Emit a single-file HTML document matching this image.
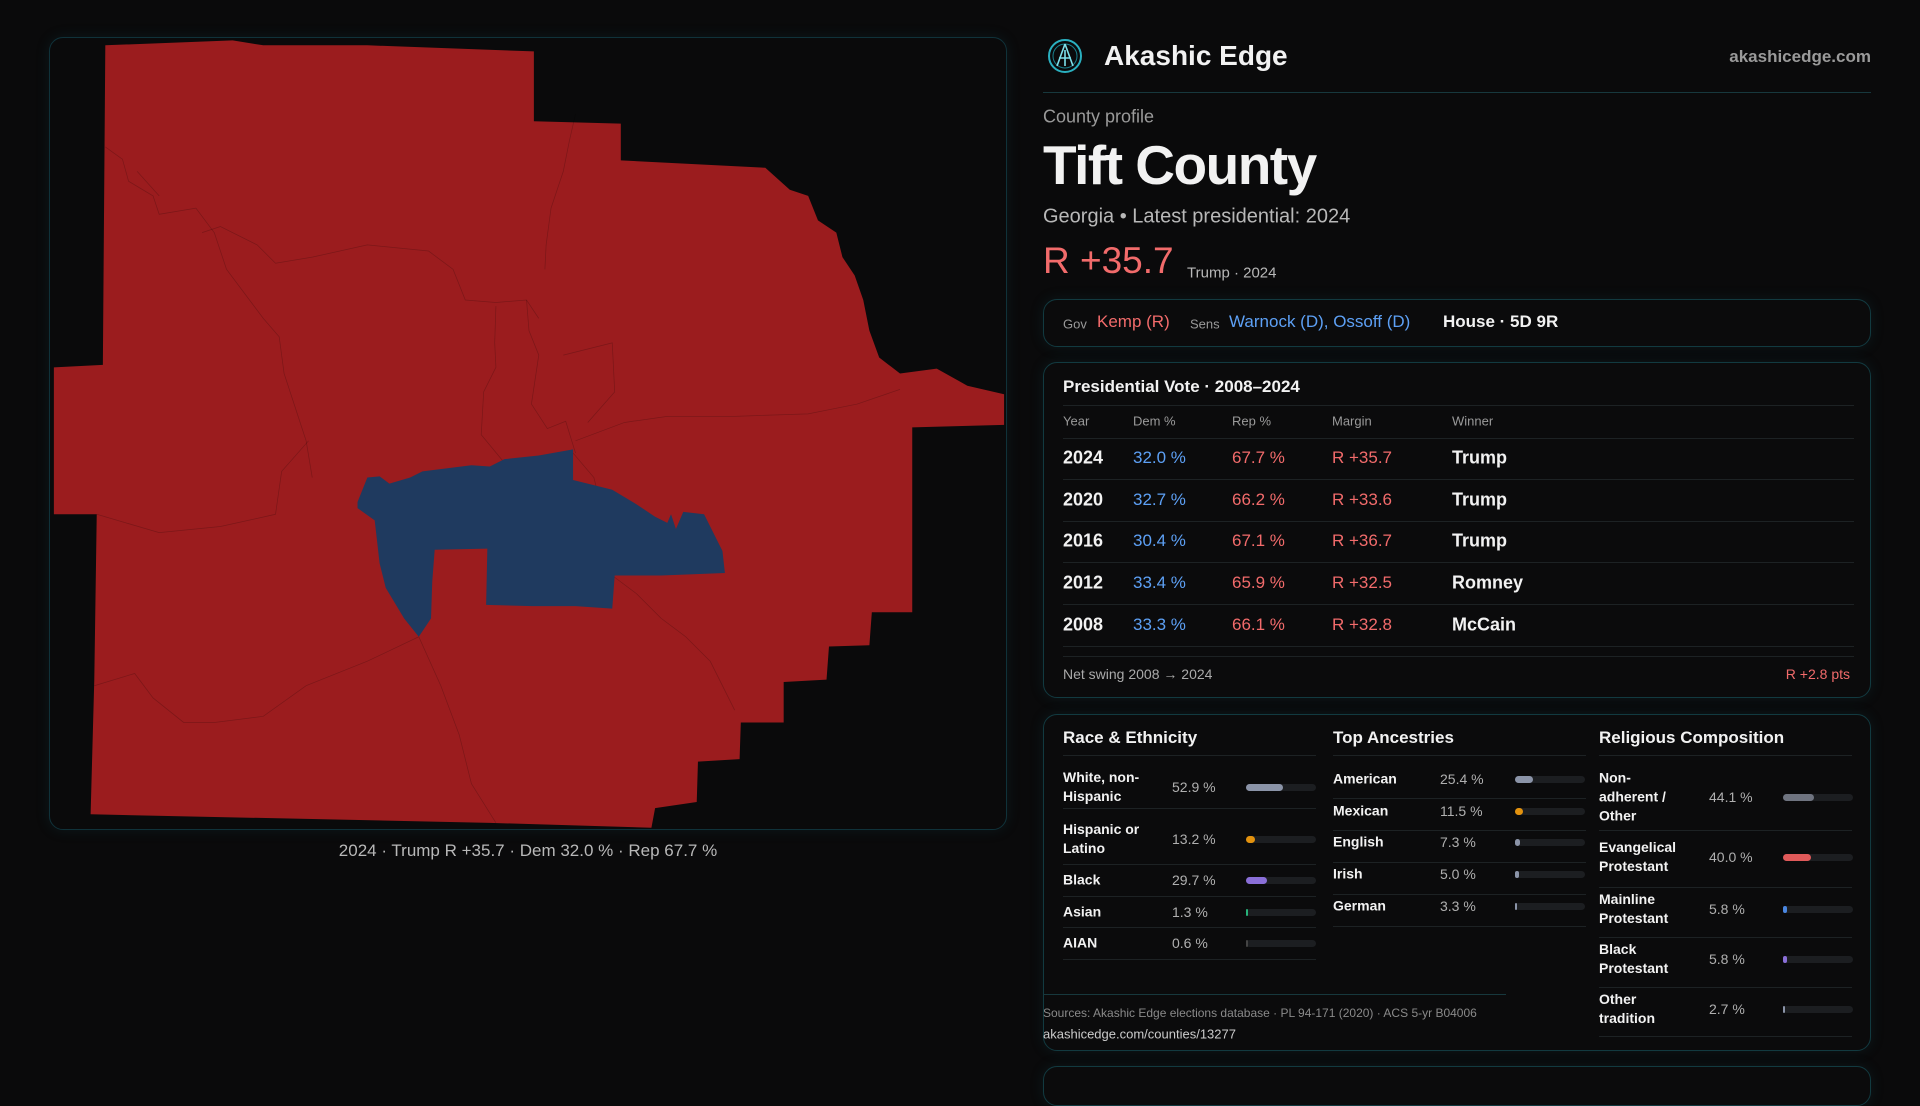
<!DOCTYPE html>
<html><head><meta charset="utf-8">
<style>
*{margin:0;padding:0;box-sizing:border-box}
body{width:1920px;height:1080px;background:#0a0a0b;font-family:"Liberation Sans",sans-serif;color:#f2f2f2;position:relative;overflow:hidden}
.a{position:absolute;white-space:nowrap}
.card{position:absolute;border:1px solid #123a40;border-radius:14px;background:#0b0b0c;box-shadow:0 0 14px rgba(20,90,100,.18)}
.hl{position:absolute;height:1px;background:#1d2224}
.r{color:#f26b6b}.b{color:#5da0f5}.g{color:#a9a9a9}
.vm{transform:translateY(-50%)}
.bar{position:absolute;height:7px;border-radius:4px;background:#1c1e21}
.bar i{position:absolute;left:0;top:0;height:7px;border-radius:4px}
</style></head><body>
<div class="card" style="left:49px;top:37px;width:958px;height:793px;background:#0a0a0b;border-color:#10323a"></div>
<svg class="a" style="left:0;top:0" width="1920" height="1080" viewBox="0 0 1568 882">
<path fill="#9b1c1e" d="M86,37 L190,33 L215,37 L300,37 L436,42 L436,99 L507,101 L507,131 L625,137 L645,155 L660,160 L668,180 L683,190 L688,210 L698,225 L705,245 L710,270 L718,292 L735,305 L765,301 L790,315 L820,322 L820,347 L745,349 L745,500 L712,500 L710,527 L677,528 L675,555 L640,557 L640,590 L605,590 L604,620 L570,622 L569,655 L535,660 L532,676 L400,672 L74,665 L77,555 L79,420 L44,420 L44,300 L84,298 Z"/>
<g fill="none" stroke="rgba(0,0,0,0.2)" stroke-width="0.6">
<path d="M86,120 L100,130 L105,148 L125,160 L130,175 L160,170 L175,190 L185,220 L200,240 L215,260 L228,275 L232,305 L250,360 L255,390"/>
<path d="M112,140 L130,160"/><path d="M165,190 L180,185 L210,200 L225,215 L255,210 L300,200 L350,205 L370,220 L380,245 L405,247 L430,245 L440,260"/>
<path d="M470,93 L465,115 L460,140 L450,170 L446,200 L445,220"/>
<path d="M405,250 L404,280 L405,300 L395,320 L393,355 L412,378"/>
<path d="M430,245 L432,270 L440,290 L434,330 L447,350 L462,344 L470,370"/>
<path d="M460,290 L500,280 L502,320 L480,345"/>
<path d="M470,360 L510,345 L545,340 L600,340 L660,338 L700,330 L735,318"/>
<path d="M252,360 L230,385 L225,420 L180,430 L130,435 L79,420"/>
<path d="M77,560 L110,550 L125,570 L150,590 L175,590 L215,585 L250,560 L300,540 L342,520 L360,560 L375,600 L385,640 L405,672"/>
<path d="M468,370 L485,390 L490,410 L480,440 L470,455"/>
<path d="M500,470 L520,485 L540,505 L560,520 L580,540 L590,560 L600,580"/>
</g>
<path fill="#1f3a5f" d="M292,410 L300,390 L310,389 L318,395 L335,390 L345,385 L385,380 L400,381 L412,375 L440,372 L468,367 L468,392 L500,400 L520,412 L535,422 L545,427 L548,420 L552,432 L558,418 L575,420 L590,450 L592,468 L540,470 L502,470 L500,497 L470,495 L435,495 L397,494 L398,448 L355,449 L353,475 L352,505 L342,520 L330,505 L315,480 L310,460 L306,425 L292,415 Z"/>
</svg>
<div class="a g" style="left:528px;top:851px;transform:translate(-50%,-50%);font-size:17px;color:#b8b8b8">2024 · Trump R +35.7 · Dem 32.0 % · Rep 67.7 %</div>

<svg class="a" style="left:1047px;top:38px" width="36" height="36" viewBox="0 0 36 36"><circle cx="18" cy="18" r="16" fill="none" stroke="#2ab0c0" stroke-width="2"/><circle cx="18" cy="18" r="12" fill="none" stroke="#1a7f8c" stroke-width="1"/><path d="M18,6 L10,28 M18,6 L26,28 M12,20 L24,20 M18,12 L18,28" stroke="#7ee0ea" stroke-width="1.6" fill="none"/></svg>
<div class="a vm" style="left:1104px;top:56px;font-size:28px;font-weight:bold">Akashic Edge</div>
<div class="a vm g" style="right:49px;top:57px;font-size:17px;font-weight:bold;color:#9a9a9a">akashicedge.com</div>
<div class="hl" style="left:1043px;top:92px;width:828px;background:#17383d"></div>
<div class="a vm" style="left:1043px;top:117px;font-size:18px;color:#9a9a9a">County profile</div>
<div class="a vm" style="left:1043px;top:165px;font-size:55px;font-weight:bold;letter-spacing:-1.5px">Tift County</div>
<div class="a vm" style="left:1043px;top:217px;font-size:20px;color:#b8b8b8">Georgia • Latest presidential: 2024</div>
<div class="a vm r" style="left:1043px;top:261px;font-size:37px">R +35.7</div>
<div class="a vm" style="left:1187px;top:273px;font-size:15px;color:#b8b8b8">Trump · 2024</div>

<div class="card" style="left:1043px;top:299px;width:828px;height:48px"></div>
<div class="a vm" style="left:1063px;top:324px;font-size:13px;color:#9a9a9a">Gov</div>
<div class="a vm r" style="left:1097px;top:322px;font-size:17px">Kemp (R)</div>
<div class="a vm" style="left:1190px;top:324px;font-size:13px;color:#9a9a9a">Sens</div>
<div class="a vm b" style="left:1229px;top:322px;font-size:17px">Warnock (D), Ossoff (D)</div>
<div class="a vm" style="left:1443px;top:322px;font-size:17px;font-weight:bold">House · 5D 9R</div>

<div class="card" style="left:1043px;top:362px;width:828px;height:336px"></div>
<div class="a vm" style="left:1063px;top:387px;font-size:17px;font-weight:bold">Presidential Vote · 2008–2024</div>
<div id="tbl"></div>
<div class="a vm" style="left:1063px;top:674px;font-size:14px;color:#aaa">Net swing 2008 → 2024</div>
<div class="a vm r" style="right:70px;top:674px;font-size:14px">R +2.8 pts</div>

<div class="card" style="left:1043px;top:714px;width:828px;height:337px"></div>
<div class="a vm" style="left:1063px;top:738px;font-size:17px;font-weight:bold">Race &amp; Ethnicity</div>
<div class="a vm" style="left:1333px;top:738px;font-size:17px;font-weight:bold">Top Ancestries</div>
<div class="a vm" style="left:1599px;top:738px;font-size:17px;font-weight:bold">Religious Composition</div>
<div id="demo"></div>
<div class="hl" style="left:1043px;top:994px;width:463px;background:#17383d"></div>
<div class="a vm" style="left:1043px;top:1013px;font-size:12px;color:#8a8a8a">Sources: Akashic Edge elections database · PL 94-171 (2020) · ACS 5-yr B04006</div>
<div class="a vm" style="left:1043px;top:1034px;font-size:13px;color:#ccc">akashicedge.com/counties/13277</div>
<div class="card" style="left:1043px;top:1066px;width:828px;height:40px"></div>

<script>
const years=["2024","2020","2016","2012","2008"];
const demPct=[32.0,32.7,30.4,33.4,33.3];
const repPct=[67.7,66.2,67.1,65.9,66.1];
const margins=["R +35.7","R +33.6","R +36.7","R +32.5","R +32.8"];
const winners=["Trump","Trump","Trump","Romney","McCain"];
const raceLabels=["White, non-<br>Hispanic","Hispanic or<br>Latino","Black","Asian","AIAN"];
const raceVals=[52.9,13.2,29.7,1.3,0.6];
const ancLabels=["American","Mexican","English","Irish","German"];
const ancVals=[25.4,11.5,7.3,5.0,3.3];
const relLabels=["Non-<br>adherent /<br>Other","Evangelical<br>Protestant","Mainline<br>Protestant","Black<br>Protestant","Other<br>tradition"];
const relVals=[44.1,40.0,5.8,5.8,2.7];

function add(parent,html,style,name,cls){
  const d=document.createElement('div');
  d.className='a vm '+(cls||'');
  d.style.cssText=style;d.innerHTML=html;
  
  
  parent.appendChild(d);return d;
}
function line(parent,x,y,w){const l=document.createElement('div');l.className='hl';l.style.cssText=`left:${x}px;top:${y}px;width:${w}px`;
  
  
  parent.appendChild(l);}
const T=document.getElementById('tbl');
line(T,1063,405,791);
const hx=[1063,1133,1232,1332,1452],hn=["Year","Dem %","Rep %","Margin","Winner"];
hn.forEach((h,i)=>add(T,h,`left:${hx[i]}px;top:421px;font-size:13px;color:#9a9a9a`,'table-header'));
line(T,1063,438,791);
const rowY=y=>458+y*41.7;
years.forEach((yr,i)=>{
  const y=rowY(i);
  add(T,yr,`left:1063px;top:${y}px;font-size:18px;font-weight:bold`,'year-cell');
  add(T,demPct[i].toFixed(1)+' %',`left:1133px;top:${y}px;font-size:17px`,'dem-cell','b');
  add(T,repPct[i].toFixed(1)+' %',`left:1232px;top:${y}px;font-size:17px`,'rep-cell','r');
  add(T,margins[i],`left:1332px;top:${y}px;font-size:17px`,'margin-cell','r');
  add(T,winners[i],`left:1452px;top:${y}px;font-size:18px;font-weight:bold`,'winner-cell');
  line(T,1063,y+21,791);
});
line(T,1063,656,791);

const D=document.getElementById('demo');
function section(labels,vals,colors,x,vx,bx,ys,lines,bw){
  line(D,x,755,253);
  labels.forEach((lb,i)=>{
    add(D,lb,`left:${x}px;top:${ys[i]}px;font-size:14px;font-weight:bold;line-height:19px`,'demo-label');
    add(D,vals[i].toFixed(1)+' %',`left:${vx}px;top:${ys[i]}px;font-size:14px;color:#b0b0b0`,'demo-value');
    const b=document.createElement('div');b.className='bar';b.style.cssText=`left:${bx}px;top:${ys[i]-3}px;width:${bw}px`;
    
    
    const f=document.createElement('i');f.style.width=Math.max(2,bw*vals[i]/100)+'px';f.style.background=colors[i];
    b.appendChild(f);D.appendChild(b);
    line(D,x,lines[i],253);
  });
}
section(raceLabels,raceVals,["#8b94a8","#e3920e","#8a6fd8","#27b37a","#444"],1063,1172,1246,[787,839,880,912,943],[808,864,896,927,959],70);
section(ancLabels,ancVals,["#8b94a8","#e3920e","#8b94a8","#8b94a8","#8b94a8"],1333,1440,1515,[779,811,842,874,906],[798,830,862,894,926],70);
section(relLabels,relVals,["#6f7480","#e05a5a","#4a86e0","#8a6fd8","#8b94a8"],1599,1709,1783,[797,857,909,959,1009],[830,887,937,987,1036],70);
</script>
</body></html>
